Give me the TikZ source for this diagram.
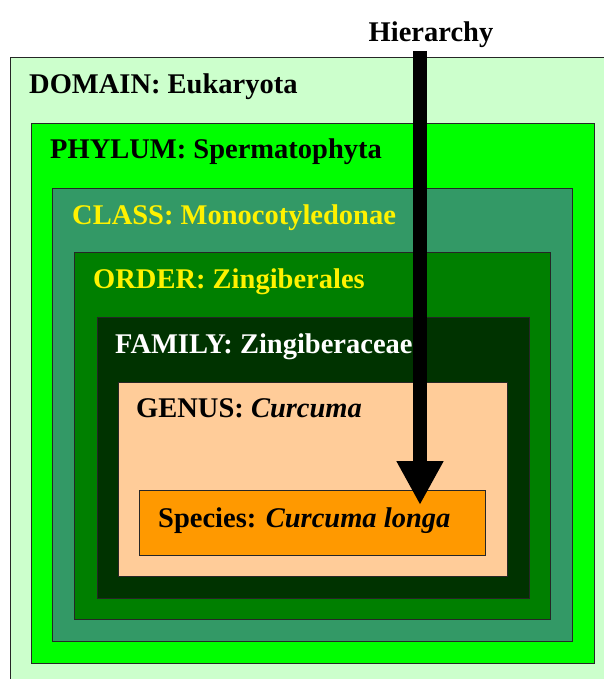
\documentclass[tikz,border=0pt]{standalone}
\usepackage{fontspec}
\setmainfont{Liberation Serif}
\usetikzlibrary{arrows.meta}

\definecolor{domaingreen}{HTML}{CCFFCC}
\definecolor{phylumgreen}{HTML}{00FF00}
\definecolor{classgreen}{HTML}{339966}
\definecolor{ordergreen}{HTML}{007F00}
\definecolor{familygreen}{HTML}{003300}
\definecolor{genusorange}{HTML}{FFCC99}
\definecolor{speciesorange}{HTML}{FF9900}

\begin{document}
\begin{tikzpicture}[x=1pt, y=-1pt,
		box/.style={draw=black!85, line width=0.9pt},
		rank/.style={anchor=base west, inner sep=0pt, font=\bfseries\fontsize{28.5}{30}\selectfont}]
	\useasboundingbox (0,0) rectangle (604,679);
	\clip (0,0) rectangle (604,679);

	\filldraw[box, fill=domaingreen] (10,57) rectangle (620,700);
	\filldraw[box, fill=phylumgreen] (31,123) rectangle (594,663);
	\filldraw[box, fill=classgreen] (52,188) rectangle (572,641);
	\filldraw[box, fill=ordergreen] (74,252) rectangle (550,619);
	\filldraw[box, fill=familygreen] (97,317) rectangle (529,598);
	\filldraw[box, fill=genusorange] (118,382) rectangle (507,576);
	\filldraw[box, fill=speciesorange] (139,490) rectangle (485,555);

	\node[rank] at (29,94) (domain) {DOMAIN: Eukaryota};
	\node[rank] at (50,158) (phylum) {PHYLUM: Spermatophyta};
	\node[rank, text=yellow] at (72,224) (class) {CLASS: Monocotyledonae};
	\node[rank, text=yellow] at (93,288) (order) {ORDER: Zingiberales};
	\node[rank, text=white] at (115,353) (family) {FAMILY: Zingiberaceae};
	\node[rank] at (136,417) (genus) {GENUS: \textit{Curcuma}};
	\node[rank] at (158,527) (species) {Species: \textit{Curcuma longa}};

	\node[rank, anchor=base] at (431,42) (hierarchy) {Hierarchy};

	\coordinate (top) at (420,51);
	\coordinate (tip) at (420,505);
	\draw[line width=14pt, -{Triangle[width=44pt, length=44pt]}] (top) -- (tip);
\end{tikzpicture}
\end{document}
